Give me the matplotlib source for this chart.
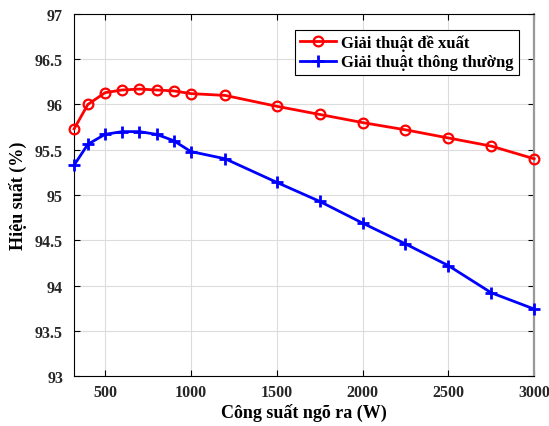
import numpy as np
import matplotlib
matplotlib.use("Agg")
import matplotlib.pyplot as plt

plt.rcParams['font.family'] = ['Liberation Serif', 'DejaVu Serif']
plt.rcParams['font.weight'] = 'bold'

# power output (W)
power = [320, 400, 500, 600, 700, 800, 900, 1000, 1200, 1500, 1750, 2000, 2250, 2500, 2750, 3000]
# efficiency (%)
eff_proposed = [95.73, 96.00, 96.13, 96.16, 96.17, 96.16, 96.15, 96.12, 96.10, 95.98, 95.89, 95.80, 95.72, 95.63, 95.54, 95.40]
eff_conventional = [95.33, 95.56, 95.67, 95.70, 95.70, 95.67, 95.60, 95.48, 95.40, 95.14, 94.93, 94.69, 94.46, 94.22, 93.92, 93.74]

xticks = [500, 1000, 1500, 2000, 2500, 3000]
yticks = [93, 93.5, 94, 94.5, 95, 95.5, 96, 96.5, 97]

fig = plt.figure(figsize=(5.49, 4.27), dpi=100)
ax = fig.add_axes([0.135, 0.117, 0.838, 0.848])

ax.plot(power, eff_proposed, color='red', lw=2, marker='o', ms=7,
        mfc='none', mew=1.6, label='Giải thuật đề xuất', clip_on=False, zorder=3)
ax.plot(power, eff_conventional, color='blue', lw=2, marker='+', ms=8,
        mew=2, label='Giải thuật thông thường', clip_on=False, zorder=3)

ax.set_xlim(320, 3000)
ax.set_ylim(93, 97)
ax.set_xticks(xticks)
ax.set_yticks(yticks)
ax.set_yticklabels(['93', '93.5', '94', '94.5', '95', '95.5', '96', '96.5', '97'])
ax.grid(True, color='#dcdcdc', lw=0.8)
ax.tick_params(direction='in', top=True, right=True, labelsize=11.5, length=4,
               labelcolor='#262626')
ax.tick_params(axis='x', pad=6)
ax.tick_params(axis='y', pad=8)
for lab in ax.get_xticklabels() + ax.get_yticklabels():
    lab.set_fontweight('bold')
for s in ax.spines.values():
    s.set_linewidth(0.8)
ax.spines['right'].set_color('#999999')
ax.spines['right'].set_linewidth(1.6)

ax.set_xlabel('Công suất ngõ ra (W)', fontsize=13, fontweight='bold', labelpad=2)
ax.set_ylabel('Hiệu suất (%)', fontsize=13, fontweight='bold', labelpad=6)

leg = ax.legend(loc='upper right', bbox_to_anchor=(0.985, 0.98), fontsize=12,
                fancybox=False, edgecolor='black', framealpha=1,
                handlelength=2.2, borderpad=0.3, labelspacing=0.2, handletextpad=0.3)
leg.get_frame().set_linewidth(0.8)
for t in leg.get_texts():
    t.set_fontweight('bold')

fig.savefig('out.png', dpi=100)
